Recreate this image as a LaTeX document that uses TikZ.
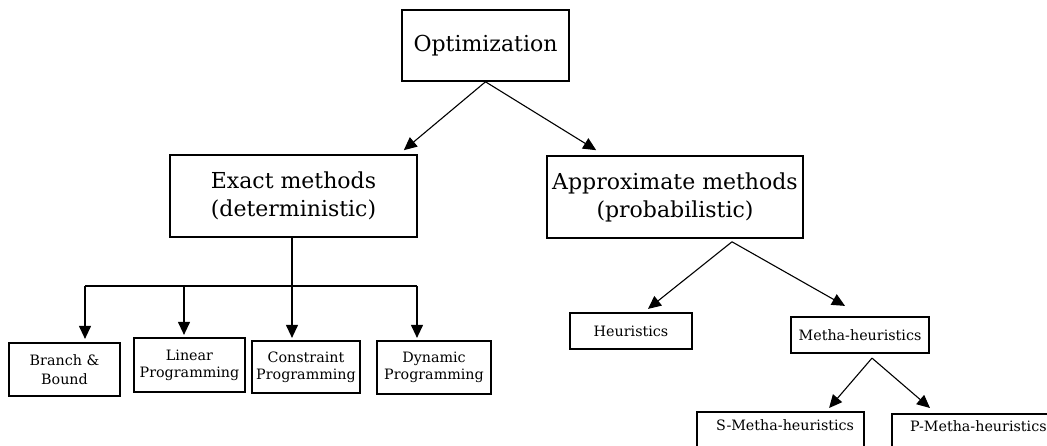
\documentclass[tikz,border=0pt]{standalone}
\usepackage{fontspec}
\setmainfont{DejaVu Serif}
\usetikzlibrary{arrows.meta,calc}
\begin{document}
\begin{tikzpicture}[x=1pt,y=-1pt,
  box/.style={draw, line width=1.6pt, inner sep=0pt, align=center},
  sbox/.style={draw, line width=2.2pt, inner sep=0pt, align=center},
  big/.style={font=\fontsize{22}{28}\selectfont},
  small/.style={font=\fontsize{14.3}{17}\selectfont},
  arr/.style={-{Triangle[length=13pt,width=12pt]}, line width=1.1pt},
  ln/.style={line width=1.1pt}]
\path[use as bounding box] (0,0) rectangle (1047,446);
\clip (0,0) rectangle (1047,446);
% top level
\node[box, big, minimum width=167, minimum height=71] (opt) at (485.5,45.5) {Optimization};
\node[box, big, minimum width=247, minimum height=82] (exact) at (293.5,196) {Exact methods\\(deterministic)};
\node[box, big, minimum width=256, minimum height=82] (approx) at (675,197) {Approximate methods\\(probabilistic)};
% exact children
\node[sbox, minimum width=111, minimum height=53, font=\fontsize{14.3}{19}\selectfont] (branch) at (64.5,369.5) {Branch \&\\Bound};
\node[sbox, small, minimum width=111, minimum height=54] (linear) at (189.5,365) {Linear\\Programming};
\node[sbox, small, minimum width=108, minimum height=52] (constraint) at (306,367) {Constraint\\Programming};
\node[sbox, small, minimum width=114, minimum height=53] (dynamic) at (434,367.5) {Dynamic\\Programming};
% approx children
\node[sbox, small, minimum width=122, minimum height=36] (heur) at (631,331) {Heuristics};
\node[sbox, small, minimum width=138, minimum height=36] (metha) at (860,335) {Metha-heuristics};
\node[sbox, anchor=north west, minimum width=167, minimum height=60] (smeta) at (696,411) {};
\node[small, anchor=north west, inner sep=0pt] (smetaT) at (716,419) {S-Metha-heuristics};
\node[sbox, anchor=north west, minimum width=200, minimum height=60] (pmeta) at (891,413) {};
\node[small, anchor=north west, inner sep=0pt] (pmetaT) at (910,420) {P-Metha-heuristics};
% connectors top
\draw[arr] (opt.south) -- ($(exact.north east)+(-14,-4)$);
\draw[arr] (opt.south) -- ($(approx.north west)+(50,-5)$);
% exact bus
\coordinate (bus) at (292,286);
\coordinate (dB) at (85,286);
\coordinate (dL) at (184,286);
\coordinate (dD) at (417,286);
\draw[ln] (dB) -- (dD);
\draw[arr] (exact.south -| bus) -- ($(bus |- constraint.north)+(0,-2)$);
\draw[arr] (dB) -- ($(dB |- branch.north)+(0,-3)$);
\draw[arr] (dL) -- ($(dL |- linear.north)+(0,-2)$);
\draw[arr] (dD) -- ($(dD |- dynamic.north)+(0,-2)$);
% approx tree
\coordinate (apA) at ($(approx.south)+(57,3)$);
\draw[arr] (apA) -- ($(heur.north)+(17,-3)$);
\draw[arr] (apA) -- ($(metha.north)+(-15,-10)$);
\coordinate (apM) at ($(metha.south)+(12,4)$);
\draw[arr] (apM) -- ($(smeta.north)+(48.5,-3)$);
\draw[arr] (apM) -- ($(pmeta.north west)+(39,-5)$);
\end{tikzpicture}
\end{document}
